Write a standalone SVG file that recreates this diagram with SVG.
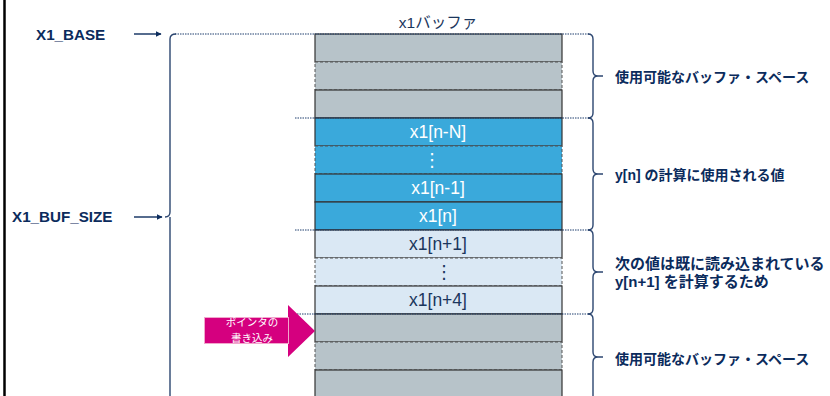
<svg xmlns="http://www.w3.org/2000/svg" width="830" height="396" viewBox="0 0 830 396">
  <defs>
    <style>
      .g { fill: #B7C3C9; }
      .b { fill: #3AA9DB; }
      .lb { fill: #DAE8F4; }
      .solid { stroke: #333; stroke-width: 1.2; }
      .dash { stroke: #555; stroke-width: 1; stroke-dasharray: 3 2; }
      .cell { font-family: "Liberation Sans", Arial, sans-serif; font-size: 17.5px; text-anchor: middle; }
      .w { fill: #FFFFFF; }
      .n { fill: #1B365D; }
      .lbl { font-family: "Liberation Sans", "Noto Sans CJK JP", sans-serif; font-weight: bold; fill: #0B2B5C; }
      .dots { font-family: "DejaVu Sans", sans-serif; font-size: 18px; text-anchor: middle; }
      .guide { stroke: #1F3F6E; stroke-width: 1; stroke-dasharray: 1.5 1; fill: none; }
      .brace { stroke: #2C4670; stroke-width: 1.4; fill: none; }
      .arr { stroke: #0D2D5E; stroke-width: 1.4; fill: none; }
      .ptr { font-family: "Noto Sans CJK JP", sans-serif; font-size: 10.5px; fill: #FFFFFF; text-anchor: middle; }
    </style>
    <marker id="ah" viewBox="0 0 10 10" refX="9" refY="5" markerWidth="6" markerHeight="6" markerUnits="userSpaceOnUse" orient="auto">
      <path d="M0,0 L10,5 L0,10 z" fill="#0D2D5E"/>
    </marker>
  </defs>

  <rect width="830" height="396" fill="#FFFFFF"/>
  <line x1="4.5" y1="0" x2="4.5" y2="396" stroke="#000" stroke-width="2.5"/>

  <g id="title">
    <text x="438" y="28" font-family="'Liberation Sans', 'Noto Sans CJK JP', sans-serif" font-size="15.5" fill="#1B365D" text-anchor="middle">x1バッファ</text>
  </g>

  <g id="buffer">
    <rect id="row1" x="315" y="34" width="247" height="28" class="g solid"/>
    <rect id="row2" x="315" y="62" width="247" height="28" class="g dash"/>
    <rect id="row3" x="315" y="90" width="247" height="28" class="g solid"/>
    <g id="row4"><rect x="315" y="118" width="247" height="28" class="b solid"/><text x="438" y="138" class="cell w">x1[n-N]</text></g>
    <g id="row5"><rect x="315" y="146" width="247" height="28" class="b dash"/><text x="432" y="166" class="dots w">⋮</text></g>
    <g id="row6"><rect x="315" y="174" width="247" height="28" class="b solid"/><text x="438" y="194" class="cell w">x1[n-1]</text></g>
    <g id="row7"><rect x="315" y="202" width="247" height="28" class="b solid"/><text x="438" y="222" class="cell w">x1[n]</text></g>
    <g id="row8"><rect x="315" y="230" width="247" height="28" class="lb solid"/><text x="438" y="250" class="cell n">x1[n+1]</text></g>
    <g id="row9"><rect x="315" y="258" width="247" height="28" class="lb dash"/><text x="444" y="278" class="dots n">⋮</text></g>
    <g id="row10"><rect x="315" y="286" width="247" height="28" class="lb solid"/><text x="438" y="306" class="cell n">x1[n+4]</text></g>
    <rect id="row11" x="315" y="314" width="247" height="28" class="g solid"/>
    <rect id="row12" x="315" y="342" width="247" height="28" class="g dash"/>
    <rect id="row13" x="315" y="370" width="247" height="30" class="g solid"/>
  </g>

  <g id="connectors">
    <line x1="175" y1="34" x2="590" y2="34" class="guide"/>
    <line x1="295" y1="118" x2="590" y2="118" class="guide"/>
    <line x1="295" y1="230" x2="590" y2="230" class="guide"/>
    <line x1="297" y1="314" x2="590" y2="314" class="guide"/>
    <path class="brace" d="M176,34 Q170,34 170,39 V212 Q170,217 165,217 M170,217 Q170,222 170,227 V400"/>
    <path class="brace" d="M588,34 Q593,34 593,39 V71 Q593,76 598,76 H603 M598,76 Q593,76 593,81 V113 Q593,118 588,118"/>
    <path class="brace" d="M588,118 Q593,118 593,123 V169 Q593,174 598,174 H603 M598,174 Q593,174 593,179 V225 Q593,230 588,230"/>
    <path class="brace" d="M588,230 Q593,230 593,235 V267 Q593,272 598,272 H603 M598,272 Q593,272 593,277 V309 Q593,314 588,314"/>
    <path class="brace" d="M588,314 Q593,314 593,319 V352 Q593,357 598,357 H603 M598,357 Q593,357 593,362 V400"/>
    <line x1="134" y1="34" x2="161" y2="34" class="arr" marker-end="url(#ah)"/>
    <line x1="134" y1="217" x2="162" y2="217" class="arr" marker-end="url(#ah)"/>
  </g>

  <g id="label-base">
    <text x="36" y="40" class="lbl" font-size="15.2">X1_BASE</text>
  </g>
  <g id="label-size">
    <text x="12" y="222" class="lbl" font-size="15.2">X1_BUF_SIZE</text>
  </g>

  <g id="note1">
    <text x="615" y="82" class="lbl" font-size="14">使用可能なバッファ・スペース</text>
  </g>
  <g id="note2">
    <text x="615" y="180" class="lbl" font-size="14">y[n] の計算に使用される値</text>
  </g>
  <g id="note3">
    <text x="615" y="269" class="lbl" font-size="15">次の値は既に読み込まれている</text>
    <text x="615" y="287" class="lbl" font-size="15">y[n+1] を計算するため</text>
  </g>
  <g id="note4">
    <text x="615" y="364" class="lbl" font-size="14">使用可能なバッファ・スペース</text>
  </g>

  <g id="write-pointer">
    <polygon points="204,317 288,317 288,305 315,331 288,357 288,344 204,344" fill="#D5007F"/>
    <rect x="204.5" y="317.5" width="84" height="26" fill="none" stroke="#F2A6CC" stroke-width="1"/>
    <text x="252" y="326" class="ptr">ポインタの</text>
    <text x="252" y="341.5" class="ptr">書き込み</text>
  </g>
</svg>
